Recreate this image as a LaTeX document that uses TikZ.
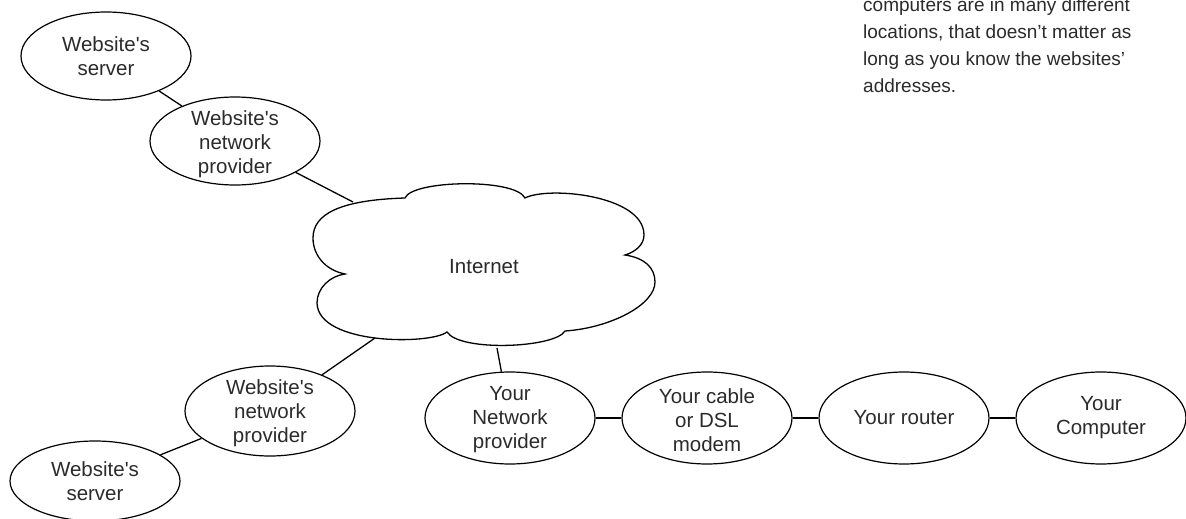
\documentclass[tikz,border=0pt]{standalone}
\usepackage{fontspec}
\setmainfont{Liberation Sans}
\usetikzlibrary{shapes.geometric}
\definecolor{txt}{HTML}{2B2B2B}
\tikzset{
  ell/.style={draw=black, line width=1.2pt, ellipse, minimum width=170pt, minimum height=88pt, inner sep=0pt},
  lbl/.style={align=center, text=txt, font=\fontsize{20.5}{24}\selectfont, inner sep=0pt},
  conn/.style={draw=black, line width=1.3pt},
  cloudline/.style={draw=black, line width=1.3pt, line join=miter},
}
\begin{document}
\begin{tikzpicture}[x=1pt,y=-1pt]
\useasboundingbox (0,0) rectangle (1186,519);
\clip (0,0) rectangle (1186,519);
\fill[white] (0,0) rectangle (1186,519);

% cloud
\path[cloudline, fill=white]
  (345,274) .. controls (325,270) and (313,255) .. (313,238)
  .. controls (313,214) and (340,200) .. (405,198)
  .. controls (412,180) and (515,178) .. (525,198)
  .. controls (548,186) and (644,195) .. (644,235)
  .. controls (644,245) and (635,252) .. (625,255)
  .. controls (645,258) and (655,268) .. (655,282)
  .. controls (655,305) and (610,328) .. (565,331)
  .. controls (555,348) and (460,352) .. (447,332)
  .. controls (430,345) and (318,345) .. (317,303)
  .. controls (317,288) and (330,276) .. (345,274) -- cycle;
\node[lbl] (inet) at (484,267) {Internet};
\coordinate (ctp) at (353,202);
\coordinate (cbp) at (375,338);
\coordinate (cynp) at (497,348);

% nodes
\node[ell, label={[lbl]center:Website\textquotesingle s\\server}] (ts) at (106,56) {};
\node[ell, label={[lbl, yshift=-3pt]center:Website\textquotesingle s\\network\\provider}] (tp) at (235,141) {};
\node[ell, minimum height=90pt, label={[lbl, yshift=-2pt]center:Website\textquotesingle s\\network\\provider}] (bp) at (270,411) {};
\node[ell, minimum height=80pt, label={[lbl]center:Website\textquotesingle s\\server}] (bs) at (95,481) {};
\node[ell, minimum height=92pt, label={[lbl, yshift=-2pt]center:Your\\Network\\provider}] (ynp) at (510,418) {};
\node[ell, minimum height=92pt, label={[lbl, yshift=-2pt]center:Your cable\\or DSL\\modem}] (ycm) at (707,418) {};
\node[ell, minimum height=92pt, label={[lbl]center:Your router}] (yr) at (904,418) {};
\node[ell, minimum height=92pt, label={[lbl]center:Your\\Computer}] (yc) at (1101,418) {};

% connectors
\draw[conn] (ts) -- (tp);
\draw[conn] (tp) -- (ctp);
\draw[conn] (cbp) -- (bp);
\draw[conn] (bp) -- (bs);
\draw[conn] (cynp) -- (ynp);
\draw[conn] (ynp) -- (ycm);
\draw[conn] (ycm) -- (yr);
\draw[conn] (yr) -- (yc);

% side text
\node[anchor=north west, align=left, inner sep=0pt, text=txt, font=\fontsize{19}{26.7}\selectfont] (note) at (863,-2)
  {computers are in many different\\locations, that doesn’t matter as\\long as you know the websites’\\addresses.};
\end{tikzpicture}
\end{document}
